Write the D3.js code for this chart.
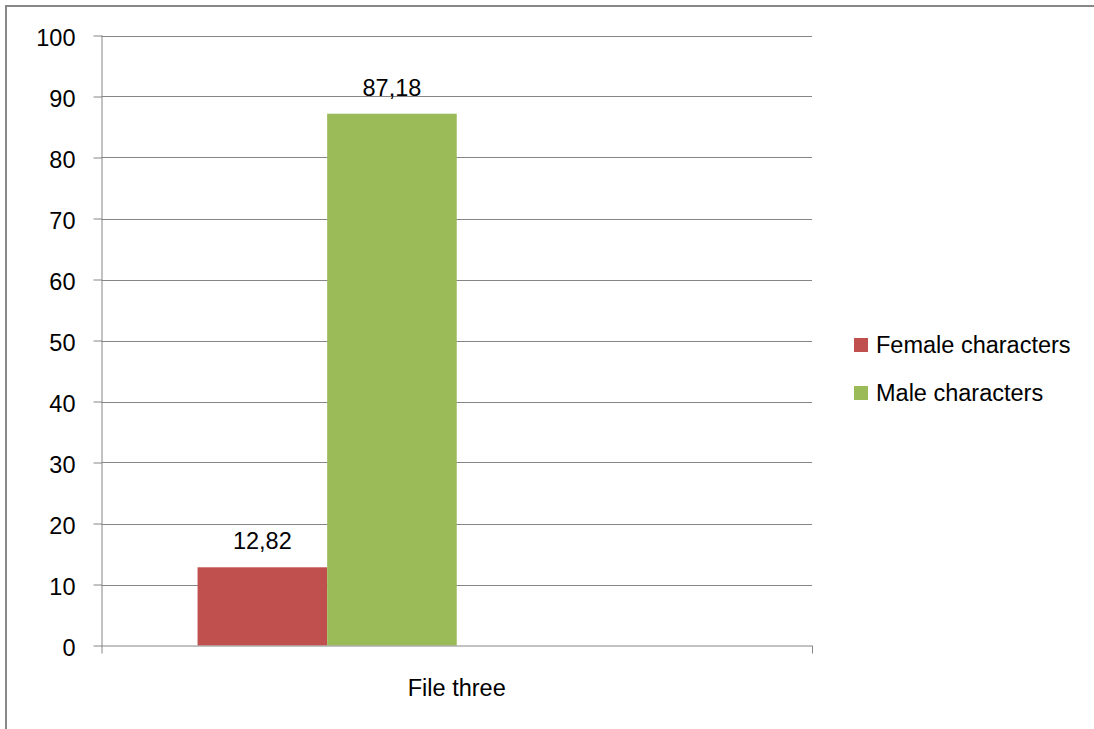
<!DOCTYPE html>
<html>
<head>
<meta charset="utf-8">
<script src="https://cdn.jsdelivr.net/npm/d3@7"></script>
<style>
  html, body { margin: 0; padding: 0; background: #fff; }
  svg { display: block; }
  text { font-family: "Liberation Sans", Arial, sans-serif; fill: #000; }
</style>
</head>
<body>
<script>
const categories = ["File three"];
const seriesNames = ["Female characters", "Male characters"];
const femaleValues = [12.82];
const maleValues = [87.18];
const seriesColors = ["#C0504D", "#9BBB59"];
const yTicks = [0, 10, 20, 30, 40, 50, 60, 70, 80, 90, 100];

const seriesValues = [femaleValues, maleValues];
const W = 1094, H = 729;
const fontSize = 23.5;
const plot = { left: 101.5, right: 812, top: 35.5, bottom: 645.5 };

const svg = d3.select("body").append("svg").attr("width", W).attr("height", H);

// outer chart border
svg.append("rect")
  .attr("x", 6).attr("y", 6).attr("width", W + 20).attr("height", H + 20)
  .attr("fill", "none").attr("stroke", "#888").attr("stroke-width", 2);

const y = d3.scaleLinear().domain([0, 100]).range([plot.bottom, plot.top]);
const x0 = d3.scaleBand().domain(categories).range([plot.left, plot.right])
  .paddingInner(0).paddingOuter(0.1853);
// four series slots per category (Excel-style), only two filled
const x1 = d3.scaleBand().domain(seriesNames).range([0, x0.bandwidth() / 2]);

// gridlines
svg.append("g").selectAll("line").data(yTicks.filter(t => t > 0)).join("line")
  .attr("x1", plot.left).attr("x2", plot.right)
  .attr("y1", d => Math.round(y(d)) + 0.5).attr("y2", d => Math.round(y(d)) + 0.5)
  .attr("stroke", "#868686").attr("stroke-width", 1);

// bars
const groups = svg.append("g").selectAll("g").data(categories).join("g")
  .attr("transform", d => `translate(${x0(d)},0)`);
seriesNames.forEach((s, si) => {
  groups.append("rect")
    .attr("x", (d, i) => x1(s))
    .attr("width", x1.bandwidth())
    .attr("y", (d, i) => y(seriesValues[si][i]))
    .attr("height", (d, i) => y(0) - y(seriesValues[si][i]))
    .attr("fill", seriesColors[si]);
  groups.append("text")
    .attr("x", x1(s) + x1.bandwidth() / 2)
    .attr("y", (d, i) => y(seriesValues[si][i]) - 18)
    .attr("text-anchor", "middle")
    .style("font-size", fontSize + "px")
    .text((d, i) => String(seriesValues[si][i]).replace(".", ","));
});

// y axis
const yAxis = d3.axisLeft(y).tickValues(yTicks).tickSize(8).tickPadding(18)
  .tickFormat(d3.format("d"));
const yg = svg.append("g").attr("transform", `translate(${plot.left},0)`).call(yAxis);
yg.select(".domain").attr("stroke", "#868686").attr("d", `M0.5,${plot.top}V${plot.bottom}`);
yg.selectAll(".tick line").attr("stroke", "#868686").attr("x1", 0.5);
yg.selectAll(".tick text").style("font-size", fontSize + "px").attr("dy", "0.42em")
  .attr("font-family", null);

// x axis
const xAxis = d3.axisBottom(x0).tickSize(0).tickPadding(0);
const xg = svg.append("g").attr("transform", `translate(0,${plot.bottom})`).call(xAxis);
xg.select(".domain").attr("stroke", "#868686").attr("d", `M${plot.left},0.5H${plot.right}`);
xg.selectAll(".tick text").style("font-size", fontSize + "px").attr("y", 50.5).attr("dy", 0)
  .attr("font-family", null);
// category boundary ticks
svg.append("g").selectAll("line").data([plot.left, plot.right]).join("line")
  .attr("x1", d => d + 0.5).attr("x2", d => d + 0.5)
  .attr("y1", plot.bottom).attr("y2", plot.bottom + 8)
  .attr("stroke", "#868686");

// legend
const legend = svg.append("g").selectAll("g").data(seriesNames).join("g")
  .attr("transform", (d, i) => `translate(854,${338 + i * 48})`);
legend.append("rect").attr("width", 14).attr("height", 14)
  .attr("fill", (d, i) => seriesColors[i]);
legend.append("text").attr("x", 22).attr("y", 15)
  .style("font-size", fontSize + "px").text(d => d);
</script>
</body>
</html>
